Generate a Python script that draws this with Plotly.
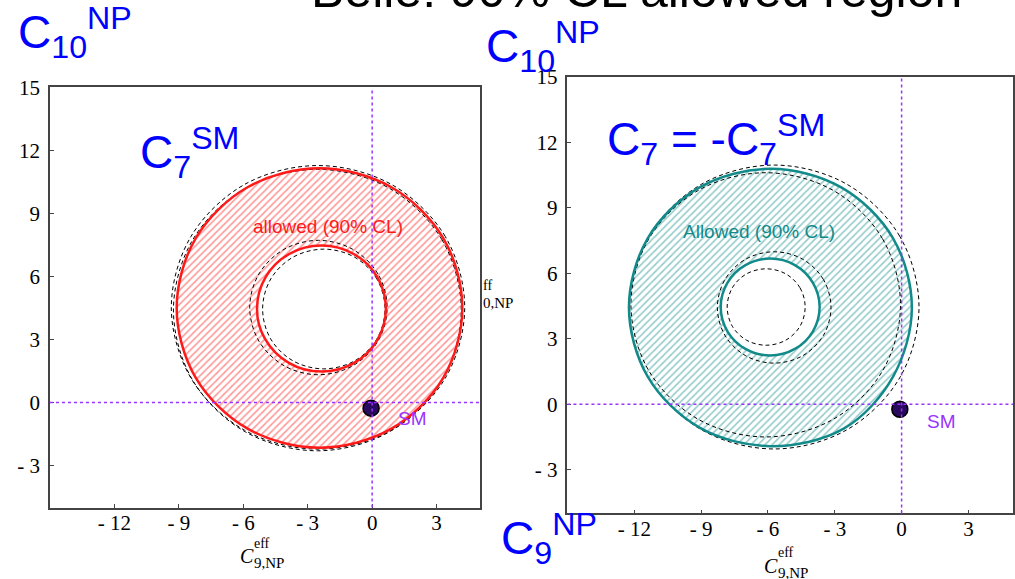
import plotly.graph_objects as go

W, H = 1015, 579

# ---------------- data ----------------
x_ticks = [-12, -9, -6, -3, 0, 3]
x_tick_text = ["- 12", "- 9", "- 6", "- 3", "0", "3"]
y_ticks = [15, 12, 9, 6, 3, 0, -3]
y_tick_text = ["15", "12", "9", "6", "3", "0", "- 3"]

# left panel: C7 = C7^SM
L_outer_x = [4.20, 3.31, 0.88, -2.45, -5.78, -8.21, -9.10, -8.21, -5.78, -2.45, 0.88, 3.31]
L_outer_y = [4.50, 7.83, 10.26, 11.15, 10.26, 7.83, 4.50, 1.17, -1.26, -2.15, -1.26, 1.17]
L_inner_x = [0.64, 0.24, -0.86, -2.36, -3.86, -4.96, -5.36, -5.00, -3.86, -2.36, -0.86, 0.24]
L_inner_y = [4.47, 5.97, 7.07, 7.47, 7.07, 5.97, 4.47, 3.05, 1.87, 1.47, 1.87, 2.97]
L_dashA_x = [4.31, 3.40, 0.90, -2.52, -5.94, -8.43, -9.35, -8.43, -5.94, -2.52, 0.90, 3.40]
L_dashA_y = [4.53, 7.91, 10.38, 11.28, 10.38, 7.91, 4.53, 1.15, -1.32, -2.22, -1.32, 1.15]
L_dashB_x = [4.15, 3.25, 0.80, -2.55, -5.90, -8.35, -9.25, -8.35, -5.90, -2.55, 0.80, 3.25]
L_dashB_y = [4.40, 7.75, 10.20, 11.10, 10.20, 7.75, 4.40, 1.05, -1.40, -2.30, -1.40, 1.05]
L_dashC_x = [0.70, 0.27, -0.90, -2.50, -4.10, -5.27, -5.70, -5.27, -4.10, -2.50, -0.90, 0.27]
L_dashC_y = [4.52, 6.12, 7.29, 7.72, 7.29, 6.12, 4.52, 2.92, 1.75, 1.32, 1.75, 2.92]
L_dashD_x = [0.60, 0.22, -0.82, -2.25, -3.68, -4.72, -5.10, -4.72, -3.68, -2.25, -0.82, 0.22]
L_dashD_y = [4.45, 5.88, 6.92, 7.30, 6.92, 5.88, 4.45, 3.02, 1.98, 1.60, 1.98, 3.02]

# right panel: C7 = -C7^SM
R_outer_x = [0.46, -0.39, -2.71, -5.89, -9.07, -11.39, -12.24, -11.39, -9.07, -5.89, -2.60, -0.39]
R_outer_y = [4.43, 7.61, 9.93, 10.78, 9.93, 7.61, 4.43, 1.25, -1.07, -1.92, -1.12, 1.25]
R_inner_x = [-3.68, -3.98, -4.79, -5.90, -7.01, -7.82, -8.12, -7.82, -7.01, -5.90, -4.79, -3.98]
R_inner_y = [4.45, 5.56, 6.37, 6.67, 6.37, 5.56, 4.45, 3.34, 2.53, 2.23, 2.53, 3.34]
R_dashA_x = [0.78, -0.09, -2.47, -5.72, -8.97, -11.35, -12.22, -11.35, -8.97, -5.72, -2.47, -0.09]
R_dashA_y = [4.45, 7.70, 10.08, 10.95, 10.08, 7.70, 4.45, 1.20, -1.18, -2.05, -1.18, 1.20]
R_dashB_x = [-0.05, -0.86, -3.07, -6.10, -9.13, -11.34, -12.15, -11.34, -9.13, -6.10, -3.07, -0.86]
R_dashB_y = [4.55, 7.58, 9.79, 10.60, 9.79, 7.58, 4.55, 1.52, -0.69, -1.50, -0.69, 1.52]
R_dashC_x = [-3.17, -3.51, -4.44, -5.72, -7.00, -7.93, -8.27, -7.93, -7.00, -5.72, -4.44, -3.51]
R_dashC_y = [4.43, 5.71, 6.64, 6.98, 6.64, 5.71, 4.43, 3.15, 2.22, 1.88, 2.22, 3.15]
R_dashD_x = [-4.33, -4.56, -5.20, -6.08, -6.96, -7.60, -7.83, -7.60, -6.96, -6.08, -5.20, -4.56]
R_dashD_y = [4.45, 5.33, 5.97, 6.20, 5.97, 5.33, 4.45, 3.57, 2.93, 2.70, 2.93, 3.57]

sm_x = [-0.05, -0.08]
sm_y = [-0.27, -0.23]

# ---------------- styling ----------------
RED = "#ff1a1a"
TEAL = "#138a8a"
PURPLE = "#9933ff"
BLUE = "#0000ff"
SERIF = "Liberation Serif, Times New Roman, serif"
SANS = "Liberation Sans, Arial, sans-serif"


def closed(xs, ys):
    return list(xs) + [xs[0]], list(ys) + [ys[0]]


def ring(ox, oy, ix, iy):
    cx, cy = list(ox) + [ox[0]], list(oy) + [oy[0]]
    rx, ry = list(ix)[::-1], list(iy)[::-1]
    rx, ry = rx + [rx[0]], ry + [ry[0]]
    return cx + [None] + rx, cy + [None] + ry


fig = go.Figure()


def panel(xa, ya, outer, inner, dashes, color, hatch):
    rx_, ry_ = ring(outer[0], outer[1], inner[0], inner[1])
    fig.add_trace(go.Scatter(
        x=rx_, y=ry_, xaxis=xa, yaxis=ya, mode="none", fill="toself",
        line=dict(shape="spline", smoothing=1.0),
        fillcolor="rgba(255,255,255,0)",
        fillpattern=dict(shape="/", fgcolor=hatch, bgcolor="rgba(255,255,255,0)",
                         size=5, solidity=0.32),
        hoverinfo="skip"))
    for dx, dy in dashes:
        cx, cy = closed(dx, dy)
        fig.add_trace(go.Scatter(
            x=cx, y=cy, xaxis=xa, yaxis=ya, mode="lines",
            line=dict(color="black", width=1, dash="4px,3px", shape="spline", smoothing=1.0),
            hoverinfo="skip"))
    for sx, sy in (outer, inner):
        cx, cy = closed(sx, sy)
        fig.add_trace(go.Scatter(
            x=cx, y=cy, xaxis=xa, yaxis=ya, mode="lines",
            line=dict(color=color, width=2.5, shape="spline", smoothing=1.0),
            hoverinfo="skip"))


panel("x", "y", (L_outer_x, L_outer_y), (L_inner_x, L_inner_y),
      [(L_dashA_x, L_dashA_y), (L_dashB_x, L_dashB_y), (L_dashC_x, L_dashC_y), (L_dashD_x, L_dashD_y)],
      RED, "#ff3030")
panel("x2", "y2", (R_outer_x, R_outer_y), (R_inner_x, R_inner_y),
      [(R_dashA_x, R_dashA_y), (R_dashB_x, R_dashB_y), (R_dashC_x, R_dashC_y), (R_dashD_x, R_dashD_y)],
      TEAL, "#2a9696")

for i, (xa, ya) in enumerate((("x", "y"), ("x2", "y2"))):
    fig.add_trace(go.Scatter(
        x=[sm_x[i]], y=[sm_y[i]], xaxis=xa, yaxis=ya, mode="markers",
        marker=dict(size=16, color="#2a0a5e", line=dict(color="black", width=1.5)),
        hoverinfo="skip"))


def px2paper(X, Y):
    return X / W, 1 - Y / H


axis_common = dict(range=[-15, 5], showgrid=False, zeroline=False, showline=True,
                   mirror=True, linecolor="#444444", linewidth=1.5, ticks="inside",
                   ticklen=4, tickcolor="#444444",
                   tickfont=dict(family=SERIF, size=21, color="black"))

fig.update_layout(
    width=W, height=H, margin=dict(l=0, r=0, t=0, b=0),
    paper_bgcolor="white", plot_bgcolor="white", showlegend=False,
    xaxis=dict(domain=[50 / W, 480 / W], anchor="y", tickvals=x_ticks, ticktext=x_tick_text,
               ticklabelstandoff=-4, **axis_common),
    yaxis=dict(domain=[1 - 506 / H, 1 - 77 / H], anchor="x", tickvals=y_ticks, ticktext=y_tick_text,
               ticklabelstandoff=4, **axis_common),
    xaxis2=dict(domain=[568 / W, 1014 / W], anchor="y2", tickvals=x_ticks, ticktext=x_tick_text,
                ticklabelstandoff=-4, **axis_common),
    yaxis2=dict(domain=[1 - 512 / H, 1 - 66 / H], anchor="x2", tickvals=y_ticks, ticktext=y_tick_text,
                ticklabelstandoff=4, **axis_common),
)
fig.update_yaxes(range=[-5, 15])

# dotted SM reference lines
for xa, ya in (("x", "y"), ("x2", "y2")):
    fig.add_shape(type="line", xref=xa, yref=ya + " domain", x0=0, x1=0, y0=0, y1=1,
                  line=dict(color=PURPLE, width=1.5, dash="dot"))
    fig.add_shape(type="line", xref=xa + " domain", yref=ya, x0=0, x1=1, y0=0, y1=0,
                  line=dict(color=PURPLE, width=1.5, dash="dot"))

ann = []
# panel texts (data coords)
ann.append(dict(xref="x", yref="y", x=1.9, y=-0.75, text="SM", showarrow=False,
                font=dict(family=SANS, size=19, color=PURPLE)))
ann.append(dict(xref="x2", yref="y2", x=1.8, y=-0.78, text="SM", showarrow=False,
                font=dict(family=SANS, size=19, color=PURPLE)))
ann.append(dict(xref="x", yref="y", x=-2.05, y=8.4, text="allowed (90% CL)", showarrow=False,
                font=dict(family=SANS, size=19, color=RED)))
ann.append(dict(xref="x2", yref="y2", x=-6.4, y=7.9, text="Allowed (90% CL)", showarrow=False,
                font=dict(family=SANS, size=19, color=TEAL)))

# title (mostly cut off at the top)
tx, ty = px2paper(637, -22)
ann.append(dict(xref="paper", yref="paper", x=tx, y=ty, xanchor="center", yanchor="middle",
                text="Belle: 90% CL allowed region", showarrow=False,
                font=dict(family=SANS, size=50, color="black")))

# big blue labels
def blue(X, Y, text):
    px_, py_ = px2paper(X, Y)
    ann.append(dict(xref="paper", yref="paper", x=px_, y=py_, xanchor="left", yanchor="middle",
                    text=text, showarrow=False, font=dict(family=SANS, size=46, color=BLUE)))


blue(16, 21, "C<sub>10</sub><sup>NP</sup>")
blue(484, 35, "C<sub>10</sub><sup>NP</sup>")
blue(138, 143, "C<sub>7</sub><sup>SM</sup>")
blue(606, 130, "C<sub>7</sub> = -C<sub>7</sub><sup>SM</sup>")
blue(499, 538, "C<sub>9</sub><sup>NP</sup>")

# x axis titles (stacked super/subscript)
def xtitle(Xc, Yc, Xs, Ye, Yn, sub):
    for X, Y, t, s in ((Xc, Yc, "<i>C</i>", 20), (Xs, Ye, "eff", 14), (Xs, Yn, sub, 15)):
        px_, py_ = px2paper(X, Y)
        ann.append(dict(xref="paper", yref="paper", x=px_, y=py_, xanchor="left", yanchor="middle",
                        text=t, showarrow=False, font=dict(family=SERIF, size=s, color="black")))


xtitle(238, 556, 252, 543, 563, "9,NP")
xtitle(763, 566, 777, 552, 573, "9,NP")

# partially hidden y-axis title of right panel
for X, Y, t, s in ((481, 279, "ff", 14), (481, 297, "0,NP", 15)):
    px_, py_ = px2paper(X, Y)
    ann.append(dict(xref="paper", yref="paper", x=px_, y=py_, xanchor="left", yanchor="middle",
                    text=t, showarrow=False, font=dict(family=SERIF, size=s, color="black")))

fig.update_layout(annotations=ann)
fig.write_html("out.html")
